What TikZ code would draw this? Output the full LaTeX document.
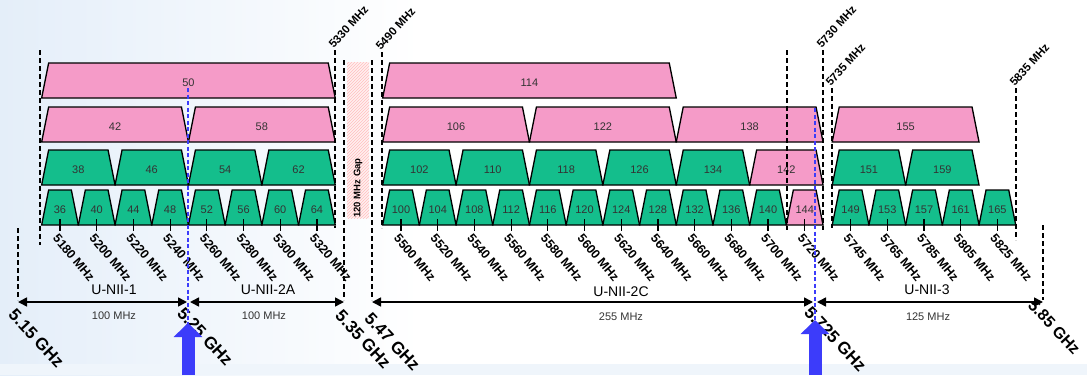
\documentclass[tikz,border=0pt]{standalone}
\usepackage{fontspec}
\setmainfont{Liberation Sans}
\usetikzlibrary{arrows.meta, patterns}

\definecolor{chanpink}{RGB}{245,155,200}
\definecolor{changreen}{RGB}{20,190,140}
\definecolor{bigblue}{RGB}{60,60,250}
\definecolor{paleblue}{RGB}{228,238,249}

% one channel: name, row top, channel number, width in MHz, colour
\newcommand{\chan}[5]{%
  \pgfmathsetmacro\chlo{fx(5000+5*#3-#4/2)}
  \pgfmathsetmacro\chhi{fx(5000+5*#3+#4/2)}
  \draw[chanedge, fill=#5] (\chlo,#2+35) -- (\chlo+7,#2) -- (\chhi-7,#2) -- (\chhi,#2+35) -- cycle;
  \node[chanlabel] (#1) at ({(\chlo+\chhi)/2},#2+20) {#3};
}

\begin{document}
\begin{tikzpicture}[x=1pt, y=-1pt,
                declare function={fx(\f)=(\f<5400)*(60+(\f-5180)*1.835)+(\f>5400)*(401+(\f-5500)*1.835);},
                chanedge/.style={draw=black, line width=1.3pt, line join=miter},
                chanlabel/.style={inner sep=0pt, text=black!80, font=\fontsize{11}{12}\selectfont},
                bandline/.style={black, line width=1.3pt, dash pattern=on 5pt off 3pt},
                blueline/.style={bigblue, line width=1.2pt, dash pattern=on 4pt off 2.5pt},
                tick/.style={black, line width=1.2pt},
                freqlabel/.style={rotate=-50, anchor=north west, inner sep=0pt, font=\bfseries\fontsize{12.5}{13}\selectfont},
                toplabel/.style={rotate=48, anchor=south west, inner sep=0.5pt, font=\bfseries\fontsize{11.5}{12}\selectfont},
                ghzlabel/.style={rotate=-47, anchor=north west, inner sep=0pt, font=\bfseries\fontsize{17}{18}\selectfont},
                bandname/.style={inner sep=0pt, font=\fontsize{14}{15}\selectfont},
                bwlabel/.style={inner sep=0pt, text=black!80, font=\fontsize{11}{12}\selectfont},
                bandarrow/.style={line width=1.6pt, {Triangle[length=9pt,width=9pt]}-{Triangle[length=9pt,width=9pt]}},
                bigarrow/.style={bigblue, line width=13pt, -{Triangle[length=14pt,width=28pt]}}]
    \useasboundingbox (0,0) rectangle (1087,375);

    % Background
    \fill[left color=paleblue, right color=white] (0,0) rectangle (420,375);
    \fill[paleblue!60] (0,364) rectangle (1087,375);

    % 120 MHz gap
    \fill[red!6] (347,62) rectangle (369,218);
    \fill[pattern=north east lines, pattern color=red!25] (347,62) rectangle (369,218);
    \node[rotate=90, inner sep=0pt, font=\bfseries\fontsize{9.5}{10}\selectfont] (gap) at (358,188) {120 MHz Gap};

    % 160 MHz channels
    \foreach \c in {50,114} \chan{c\c}{63}{\c}{160}{chanpink};

    % 80 MHz channels
    \foreach \c in {42,58,106,122,138,155} \chan{c\c}{107}{\c}{80}{chanpink};

    % 40 MHz channels
    \foreach \c in {38,46,54,62,102,110,118,126,134,151,159} \chan{c\c}{150}{\c}{40}{changreen};
    \chan{c142}{150}{142}{40}{chanpink};

    % 20 MHz channels
    \foreach \c in {36,40,...,64,100,104,...,140,149,153,...,165} \chan{c\c}{190}{\c}{20}{changreen};
    \chan{c144}{190}{144}{20}{chanpink};

    % Centre frequencies
    \foreach \c in {36,40,...,64,100,104,...,144,149,153,...,165} {
        \pgfmathsetmacro\tx{fx(5000+5*\c)}
        \pgfmathtruncatemacro\fr{5000+5*\c}
        \draw[tick] (\tx,219) -- (\tx,231);
        \node[freqlabel] (f\fr) at (\tx-1,233) {\fr{} MHz};
    }

    % Band edges
    \draw[bandline] (40,50) -- (40,245);
    \draw[bandline] (335,50) -- (335,228);
    \draw[bandline] (382,52) -- (382,228);
    \draw[bandline] (787,50) -- (787,230);
    \draw[bandline] (823,50) -- (823,230);
    \draw[bandline] (832,88) -- (832,228);
    \draw[bandline] (1016,88) -- (1016,240);
    \draw[bandline] (18,228) -- (18,300);
    \draw[bandline] (344,60) -- (344,300);
    \draw[bandline] (372,60) -- (372,300);
    \draw[bandline] (1043,225) -- (1043,300);

    \node[toplabel] (t5330) at (334,50) {5330 MHz};
    \node[toplabel] (t5490) at (381,52) {5490 MHz};
    \node[toplabel] (t5730) at (822,50) {5730 MHz};
    \node[toplabel] (t5735) at (831,88) {5735 MHz};
    \node[toplabel] (t5835) at (1015,88) {5835 MHz};

    % U-NII bands
    \coordinate (b515) at (18,302);
    \coordinate (b525) at (188,302);
    \coordinate (b535) at (344,302);
    \coordinate (b547) at (372,302);
    \coordinate (b5725) at (815,302);
    \coordinate (b585) at (1043,302);

    \draw[bandarrow, shorten >=1pt] (b515) -- (b525);
    \draw[bandarrow, shorten <=2pt] (b525) -- (b535);
    \draw[bandarrow, shorten >=2pt] (b547) -- (b5725);
    \draw[bandarrow, shorten <=2pt] (b5725) -- (b585);

    \node[bandname] (unii1) at (114,290) {U-NII-1};
    \node[bandname] (unii2a) at (268,290) {U-NII-2A};
    \node[bandname] (unii2c) at (621,292) {U-NII-2C};
    \node[bandname] (unii3) at (927,290) {U-NII-3};
    \node[bwlabel] (w1) at (114,316) {100 MHz};
    \node[bwlabel] (w2a) at (264,316) {100 MHz};
    \node[bwlabel] (w2c) at (621,317) {255 MHz};
    \node[bwlabel] (w3) at (928,317) {125 MHz};

    \node[ghzlabel, xshift=3pt, yshift=-5pt] (g515) at (b515) {5.15 GHz};
    \node[ghzlabel, xshift=1pt, yshift=-5pt] (g525) at (b525) {5.25 GHz};
    \node[ghzlabel, xshift=4pt, yshift=-5pt] (g535) at (b535) {5.35 GHz};
    \node[ghzlabel, xshift=7pt, yshift=-6pt] (g547) at (b547) {5.47 GHz};
    \node[ghzlabel, xshift=0pt, yshift=-4pt] (g5725) at (b5725) {5.725 GHz};
    \node[ghzlabel, font=\bfseries\fontsize{16}{17}\selectfont, xshift=-8pt, yshift=-3pt] (g585) at (b585) {5.85 GHz};

    % Markers at 5.25 and 5.725 GHz
    \draw[blueline] (188,88) -- (188,330);
    \draw[blueline] (815,108) -- (815,322);
    \coordinate (p525) at (188,375);
    \coordinate (q525) at (188,323);
    \coordinate (p5725) at (815,375);
    \coordinate (q5725) at (815,320);
    \draw[bigarrow] (p525) -- (q525);
    \draw[bigarrow] (p5725) -- (q5725);
\end{tikzpicture}
\end{document}
